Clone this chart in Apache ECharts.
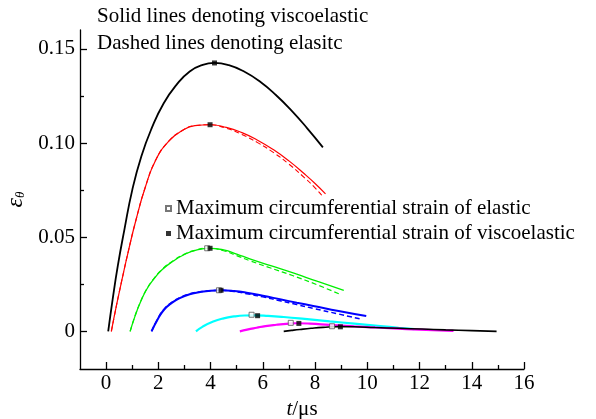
<!DOCTYPE html>
<html>
<head>
<meta charset="utf-8">
<script src="https://cdn.jsdelivr.net/npm/echarts@6/dist/echarts.min.js"></script>
<style>html,body{margin:0;padding:0;background:#fff;}#c{width:596px;height:419px;}</style>
</head>
<body>
<div id="c"></div>
<script>
// ---- data ----
const blackTopX = [0.08, 0.25, 0.45, 0.7, 1.0, 1.35, 1.75, 2.2, 2.7, 3.2, 3.7, 4.15, 4.7, 5.3, 5.9, 6.5, 7.1, 7.7, 8.3];
const blackTopY = [0, 0.017, 0.035, 0.054, 0.075, 0.093, 0.108, 0.121, 0.131, 0.138, 0.1415, 0.1425, 0.1413, 0.1378, 0.1325, 0.1255, 0.1172, 0.1078, 0.0977];

const redX = [0.2, 0.4, 0.6, 0.85, 1.15, 1.5, 1.9, 2.4, 2.9, 3.4, 3.98, 4.6, 5.2, 5.8, 6.4, 7.0, 7.6, 8.0, 8.4];
const redY = [0, 0.014, 0.027, 0.0425, 0.0595, 0.0765, 0.091, 0.101, 0.1065, 0.1092, 0.1097, 0.1083, 0.1055, 0.1015, 0.0965, 0.0905, 0.0835, 0.0785, 0.073];
const redDashX = [0.2, 0.4, 0.6, 0.85, 1.15, 1.5, 1.9, 2.4, 2.9, 3.4, 3.95, 4.6, 5.2, 5.8, 6.4, 7.0, 7.6, 8.0, 8.3];
const redDashY = [0, 0.014, 0.027, 0.0425, 0.0595, 0.0765, 0.091, 0.101, 0.1065, 0.1092, 0.1097, 0.1078, 0.1045, 0.1002, 0.095, 0.0888, 0.0815, 0.0762, 0.0715];

const greenX = [0.92, 1.1, 1.3, 1.55, 1.81, 2.15, 2.57, 3.0, 3.45, 3.98, 4.5, 5.0, 5.5, 6.3, 7.16, 8.1, 9.1];
const greenY = [0, 0.0078, 0.015, 0.0222, 0.0275, 0.0328, 0.0373, 0.0408, 0.0431, 0.0441, 0.0432, 0.041, 0.0385, 0.0349, 0.031, 0.0265, 0.0218];
const greenDashX = [0.92, 1.1, 1.3, 1.55, 1.81, 2.15, 2.57, 3.0, 3.45, 3.87, 4.5, 5.0, 5.5, 6.3, 7.16, 8.1, 8.95];
const greenDashY = [0, 0.0079, 0.0152, 0.0224, 0.0277, 0.033, 0.0375, 0.041, 0.0432, 0.0441, 0.0428, 0.0402, 0.0375, 0.0336, 0.0295, 0.0246, 0.0197];

const blueX = [1.74, 1.95, 2.2, 2.5, 2.84, 3.2, 3.6, 4.0, 4.4, 4.9, 5.38, 6.0, 6.7, 7.3, 7.93, 8.9, 9.96];
const blueY = [0, 0.0058, 0.0112, 0.015, 0.0178, 0.0197, 0.0209, 0.0216, 0.0218, 0.0214, 0.0205, 0.0189, 0.0169, 0.0152, 0.0135, 0.0108, 0.0081];
const blueDashX = [1.74, 1.95, 2.2, 2.5, 2.84, 3.2, 3.6, 4.0, 4.32, 4.9, 5.38, 6.0, 6.7, 7.3, 7.93, 8.9, 9.78];
const blueDashY = [0, 0.006, 0.0114, 0.0152, 0.018, 0.0199, 0.021, 0.0216, 0.0218, 0.0211, 0.02, 0.0183, 0.0161, 0.0142, 0.0122, 0.0092, 0.0064];

const cyanX = [3.44, 3.7, 4.1, 4.5, 4.9, 5.3, 5.7, 6.2, 6.8, 7.6, 8.56, 9.5, 10.5, 11.2, 11.8];
const cyanY = [0, 0.0025, 0.0052, 0.0069, 0.0079, 0.0084, 0.0085, 0.0082, 0.0076, 0.0066, 0.0053, 0.0041, 0.0028, 0.0019, 0.0012];

const magentaX = [5.12, 5.4, 5.76, 6.1, 6.52, 7.0, 7.3, 7.8, 8.56, 9.5, 10.5, 11.5, 12.5, 13.3];
const magentaY = [0, 0.0009, 0.0019, 0.0028, 0.0035, 0.0041, 0.0043, 0.0041, 0.0034, 0.0026, 0.0019, 0.0012, 0.0006, 0.0002];

const blackLowX = [6.8, 7.1, 7.42, 7.85, 8.3, 8.9, 9.5, 10.3, 11.2, 12.1, 13, 14, 14.95];
const blackLowY = [0, 0.0005, 0.001, 0.0016, 0.0021, 0.0025, 0.0024, 0.002, 0.0016, 0.0012, 0.0008, 0.0004, 0];

// maxima markers
const elasticMaxX = [3.87, 4.32, 5.57, 7.07, 8.65];
const elasticMaxY = [0.0441, 0.0218, 0.0088, 0.0045, 0.0027];
const viscoMaxX = [4.15, 3.98, 3.98, 4.4, 5.8, 7.38, 8.97];
const viscoMaxY = [0.1425, 0.1097, 0.0441, 0.0218, 0.0083, 0.0042, 0.0024];

const xMajor = [0, 2, 4, 6, 8, 10, 12, 14, 16];
const xMinor = [1, 3, 5, 7, 9, 11, 13, 15];
const yMajor = [0, 0.05, 0.10, 0.15];
const yMinor = [0.025, 0.075, 0.125];

const noteLines = ['Solid lines denoting viscoelastic', 'Dashed lines denoting elasitc'];
const legendNames = ['Maximum circumferential strain of elastic', 'Maximum circumferential strain of viscoelastic'];

// ---- build ----
const zip = (xs, ys) => xs.map((x, i) => [x, ys[i]]);
const FONT = 'Liberation Serif';

function line(name, xs, ys, color, width, dashed) {
  return {
    type: 'line', name: name, data: zip(xs, ys), smooth: 0.5, showSymbol: false, symbol: 'none',
    lineStyle: { color: color, width: width, type: dashed ? [5, 3] : 'solid' },
    z: dashed ? 2 : 3, silent: true, animation: false
  };
}

const chart = echarts.init(document.getElementById('c'), null, { renderer: 'canvas' });
const axisLineStyle = { show: true, onZero: false, lineStyle: { color: '#000', width: 1.3 } };
chart.setOption({
  animation: false,
  backgroundColor: '#fff',
  grid: { left: 80, right: 72, top: 30, bottom: 50, containLabel: false, outerBoundsMode: 'none' },
  textStyle: { fontFamily: FONT },
  legend: {
    orient: 'vertical', left: 160, top: 193, itemWidth: 5, itemHeight: 5, itemGap: 4,
    data: [{ name: legendNames[0], icon: 'rect' }, { name: legendNames[1], icon: 'rect' }],
    textStyle: { fontFamily: FONT, fontSize: 21, color: '#000' }
  },
  xAxis: [{
    type: 'value', min: -1, max: 16,
    axisLine: axisLineStyle, splitLine: { show: false },
    axisTick: { show: true, inside: true, length: 7, customValues: xMajor, lineStyle: { color: '#000', width: 1.3 } },
    axisLabel: { show: true, customValues: xMajor, margin: 4, fontFamily: FONT, fontSize: 21, color: '#000' },
    name: '{i|t}/μs', nameLocation: 'middle', nameGap: 25,
    nameTextStyle: { fontFamily: FONT, fontSize: 21, color: '#000', rich: { i: { fontFamily: FONT, fontSize: 21, fontStyle: 'italic' } } }
  }, {
    type: 'value', min: -1, max: 16, position: 'bottom',
    axisLine: { show: false, onZero: false }, splitLine: { show: false }, axisLabel: { show: false },
    axisTick: { show: true, inside: true, length: 4, customValues: xMinor, lineStyle: { color: '#000', width: 1.3 } }
  }],
  yAxis: [{
    type: 'value', min: -0.02, max: 0.16,
    axisLine: axisLineStyle, splitLine: { show: false },
    axisTick: { show: true, inside: true, length: 7, customValues: yMajor, lineStyle: { color: '#000', width: 1.3 } },
    axisLabel: { show: true, customValues: yMajor, margin: 5, fontFamily: FONT, fontSize: 21, color: '#000',
      formatter: v => (Math.abs(v) < 1e-9 ? '0' : v.toFixed(2)) },
    name: '{e|ε}{s|θ}', nameLocation: 'middle', nameGap: 47,
    nameTextStyle: { fontFamily: FONT, color: '#000', rich: {
      e: { fontFamily: FONT, fontSize: 24, fontStyle: 'italic' },
      s: { fontFamily: FONT, fontSize: 13, fontStyle: 'italic', verticalAlign: 'bottom', padding: [10, 0, 0, 0] } } }
  }, {
    type: 'value', min: -0.02, max: 0.16, position: 'left',
    axisLine: { show: false, onZero: false }, splitLine: { show: false }, axisLabel: { show: false },
    axisTick: { show: true, inside: true, length: 4, customValues: yMinor, lineStyle: { color: '#000', width: 1.3 } }
  }],
  graphic: [
    { type: 'text', left: 97, top: 6, style: { text: noteLines[0], font: '21px "Liberation Serif"', fill: '#000' } },
    { type: 'text', left: 97, top: 33, style: { text: noteLines[1], font: '21px "Liberation Serif"', fill: '#000' } }
  ],
  series: [
    line('blackTop', blackTopX, blackTopY, '#000000', 1.8, false),
    line('redDash', redDashX, redDashY, '#ff0000', 1.1, true),
    line('red', redX, redY, '#ff0000', 1.2, false),
    line('greenDash', greenDashX, greenDashY, '#00ee00', 1.2, true),
    line('green', greenX, greenY, '#00ee00', 1.3, false),
    line('blueDash', blueDashX, blueDashY, '#0000ff', 1.5, true),
    line('blue', blueX, blueY, '#0000ff', 2, false),
    line('cyan', cyanX, cyanY, '#00ffff', 2.2, false),
    line('magenta', magentaX, magentaY, '#ff00ff', 2.2, false),
    line('blackLow', blackLowX, blackLowY, '#000000', 1.6, false),
    {
      type: 'scatter', name: legendNames[0], data: zip(elasticMaxX, elasticMaxY), symbol: 'rect', symbolSize: 5,
      itemStyle: { color: '#fff', borderColor: '#555', borderWidth: 1 }, z: 5, silent: true
    },
    {
      type: 'scatter', name: legendNames[1], data: zip(viscoMaxX, viscoMaxY), symbol: 'rect', symbolSize: 5,
      itemStyle: { color: '#000' }, z: 6, silent: true
    }
  ]
});
</script>
</body>
</html>
